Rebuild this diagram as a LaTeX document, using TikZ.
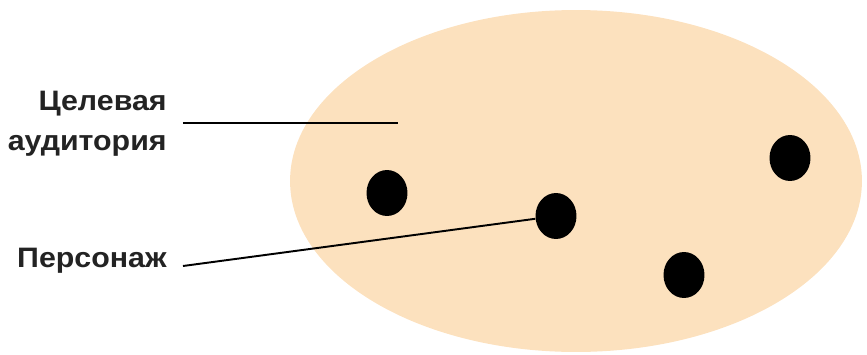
\documentclass[tikz,border=0pt]{standalone}
\usepackage{fontspec}
\setmainfont[FakeStretch=1.08]{Liberation Sans}
\usetikzlibrary{shapes.geometric}
\definecolor{peach}{RGB}{252,225,190}
\definecolor{ink}{RGB}{35,35,35}

\begin{document}
\begin{tikzpicture}[x=0.02cm, y=-0.02cm,
  every node/.style={font=\bfseries\fontsize{16}{22.7}\selectfont, text=ink, inner sep=0pt},
  dot/.style={ellipse, fill=black, minimum width=0.82cm, minimum height=0.92cm},
  pointer/.style={draw=black, line width=1.1pt}]
  \useasboundingbox (0,0) rectangle (867,355);

  % Target audience
  \fill[peach] (576,181) ellipse [x radius=5.72cm, y radius=3.42cm];

  % Characters
  \node[dot] (p1) at (387,193) {};
  \node[dot] (p2) at (556,216) {};
  \node[dot] (p3) at (684,275) {};
  \node[dot] (p4) at (790,158) {};

  % Labels
  \node[anchor=east, align=right] (aud) at (167,124) {Целевая\\аудитория};
  \node[anchor=east] (pers) at (167,261) {Персонаж};

  % Pointers
  \coordinate (audend) at (398,123);
  \draw[pointer] ([xshift=0.32cm, yshift=0.02cm]aud.east) -- (audend);
  \draw[pointer] ([xshift=0.32cm, yshift=-0.1cm]pers.east) -- (p2);
\end{tikzpicture}
\end{document}
